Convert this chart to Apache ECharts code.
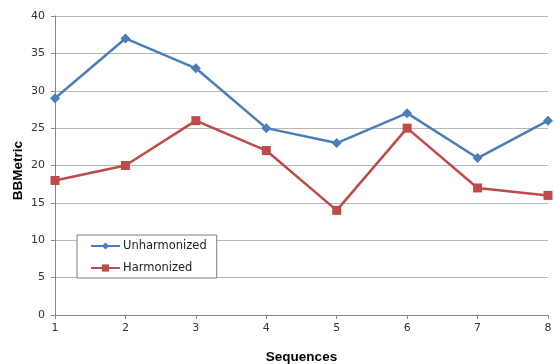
<!DOCTYPE html>
<html>
<head>
<meta charset="utf-8">
<script src="https://cdn.jsdelivr.net/npm/echarts@6/dist/echarts.min.js"></script>
<style>
html,body{margin:0;padding:0;background:#fff;}
#chart{width:554px;height:364px;}
</style>
</head>
<body>
<div id="chart"></div>
<script>
const sequences = ['1', '2', '3', '4', '5', '6', '7', '8'];
const unharmonized = [29, 37, 33, 25, 23, 27, 21, 26];
const harmonized = [18, 20, 26, 22, 14, 25, 17, 16];

const chart = echarts.init(document.getElementById('chart'));
const font = 'DejaVu Sans, Verdana, sans-serif';
const titleFont = 'Liberation Sans, Arial, sans-serif';
chart.setOption({
  animation: false,
  textStyle: { fontFamily: font },
  grid: { left: 55, right: 6, top: 16, bottom: 49, containLabel: false, outerBoundsMode: 'none' },
  legend: {
    orient: 'vertical',
    left: 77,
    top: 235,
    width: 140,
    padding: [5, 10, 4, 13],
    itemGap: 10,
    itemWidth: 29,
    itemHeight: 9,
    borderColor: '#7f7f7f',
    borderWidth: 1,
    backgroundColor: '#fff',
    textStyle: { fontSize: 11.5, color: '#222', padding: [0, 50, 0, -2] },
    data: ['Unharmonized', 'Harmonized']
  },
  xAxis: {
    type: 'category',
    data: sequences,
    boundaryGap: false,
    name: 'Sequences',
    nameLocation: 'middle',
    nameGap: 35,
    nameMoveOverlap: false,
    nameTextStyle: { fontWeight: 'bold', fontSize: 13.5, color: '#000', fontFamily: titleFont },
    axisLine: { lineStyle: { color: '#868686' } },
    axisTick: { alignWithLabel: true, length: 4, lineStyle: { color: '#868686' } },
    axisLabel: { fontSize: 11, color: '#333', margin: 8 }
  },
  yAxis: {
    type: 'value',
    min: 0,
    max: 40,
    interval: 5,
    name: 'BBMetric',
    nameLocation: 'middle',
    nameGap: 30,
    nameMoveOverlap: false,
    nameTextStyle: { fontWeight: 'bold', fontSize: 13.5, color: '#000', fontFamily: titleFont, padding: [0, 10, 0, 0] },
    axisLine: { show: true, lineStyle: { color: '#868686' } },
    axisTick: { show: true, length: 4, lineStyle: { color: '#868686' } },
    axisLabel: { fontSize: 11, color: '#333', margin: 10 },
    splitLine: { lineStyle: { color: '#b8b8b8' } }
  },
  series: [
    {
      name: 'Unharmonized',
      type: 'line',
      data: unharmonized,
      symbol: 'diamond',
      symbolSize: 10,
      color: '#4a7ebb',
      lineStyle: { width: 2.5, color: '#4a7ebb' },
      itemStyle: { color: '#4a7ebb' }
    },
    {
      name: 'Harmonized',
      type: 'line',
      data: harmonized,
      symbol: 'rect',
      symbolSize: 9,
      color: '#be4b48',
      lineStyle: { width: 2.5, color: '#be4b48' },
      itemStyle: { color: '#be4b48' }
    }
  ]
});
</script>
</body>
</html>
